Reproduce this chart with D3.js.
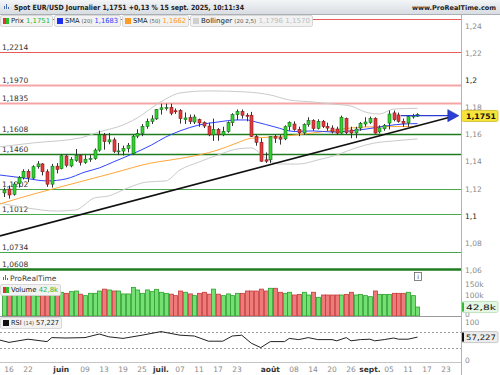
<!DOCTYPE html>
<html>
<head>
<meta charset="utf-8">
<script src="https://cdn.jsdelivr.net/npm/d3@7"></script>
<style>
body{margin:0;background:#fff}
svg{display:block;font-family:"DejaVu Sans",sans-serif}
</style>
</head>
<body>
<svg id="chart" width="500" height="375"></svg>
<script>
// daily candles, 15 May -> 15 Sep 2025 (index -1 .. 86)
var days = ["05-15","05-16","05-19","05-20","05-21","05-22","05-23","05-26","05-27","05-28","05-29","05-30",
  "06-02","06-03","06-04","06-05","06-06","06-09","06-10","06-11","06-12","06-13","06-16","06-17","06-18","06-19","06-20","06-23","06-24","06-25","06-26","06-27","06-30",
  "07-01","07-02","07-03","07-04","07-07","07-08","07-09","07-10","07-11","07-14","07-15","07-16","07-17","07-18","07-21","07-22","07-23","07-24","07-25","07-28","07-29","07-30","07-31",
  "08-01","08-04","08-05","08-06","08-07","08-08","08-11","08-12","08-13","08-14","08-15","08-18","08-19","08-20","08-21","08-22","08-25","08-26","08-27","08-28","08-29",
  "09-01","09-02","09-03","09-04","09-05","09-08","09-09","09-10","09-11","09-12","09-15"];
var firstIdx = -1;

var open = [1.1170,1.1199,1.1160,1.1240,1.1285,1.1330,1.1280,1.1364,1.1385,1.1327,1.1235,1.1368,
  1.1350,1.1443,1.1370,1.1410,1.1448,1.1395,1.1418,1.1425,1.1487,1.1598,1.1548,1.1563,1.1478,1.1480,1.1498,1.1460,1.1590,1.1610,1.1662,1.1700,1.1718,
  1.1787,1.1800,1.1802,1.1778,1.1780,1.1712,1.1728,1.1695,1.1712,1.1690,1.1665,1.1600,1.1640,1.1600,1.1625,1.1690,1.1750,1.1772,1.1745,1.1745,1.1588,1.1545,1.1415,
  1.1415,1.1587,1.1580,1.1570,1.1663,1.1680,1.1640,1.1614,1.1676,1.1705,1.1648,1.1700,1.1662,1.1650,1.1643,1.1613,1.1720,1.1636,1.1614,1.1650,1.1680,
  1.1690,1.1722,1.1622,1.1645,1.1687,1.1762,1.1747,1.1700,1.1688,1.1735,1.1738];
var high = [1.1209,1.1225,1.1250,1.1295,1.1345,1.1345,1.1375,1.1406,1.1390,1.1345,1.1385,1.1390,
  1.1455,1.1455,1.1435,1.1495,1.1455,1.1450,1.1450,1.1500,1.1631,1.1614,1.1614,1.1580,1.1540,1.1520,1.1540,1.1600,1.1641,1.1680,1.1720,1.1745,1.1790,
  1.1830,1.1830,1.1830,1.1795,1.1790,1.1765,1.1750,1.1750,1.1720,1.1700,1.1690,1.1720,1.1650,1.1660,1.1700,1.1760,1.1788,1.1788,1.1760,1.1770,1.1600,1.1575,1.1470,
  1.1590,1.1600,1.1600,1.1670,1.1700,1.1700,1.1660,1.1685,1.1730,1.1715,1.1715,1.1710,1.1690,1.1670,1.1660,1.1742,1.1728,1.1660,1.1660,1.1695,1.1730,
  1.1735,1.1730,1.1670,1.1680,1.1780,1.1780,1.1765,1.1720,1.1745,1.1755,1.1760];
var low = [1.1140,1.1128,1.1150,1.1210,1.1270,1.1250,1.1270,1.1350,1.1300,1.1215,1.1210,1.1315,
  1.1345,1.1360,1.1360,1.1400,1.1373,1.1385,1.1400,1.1415,1.1475,1.1490,1.1530,1.1466,1.1450,1.1447,1.1470,1.1452,1.1575,1.1590,1.1645,1.1680,1.1710,
  1.1750,1.1780,1.1745,1.1755,1.1683,1.1680,1.1680,1.1680,1.1660,1.1650,1.1590,1.1555,1.1556,1.1590,1.1615,1.1665,1.1710,1.1720,1.1700,1.1585,1.1520,1.1400,1.1392,
  1.1392,1.1540,1.1528,1.1560,1.1630,1.1630,1.1590,1.1600,1.1660,1.1630,1.1640,1.1650,1.1630,1.1610,1.1600,1.1607,1.1605,1.1575,1.1575,1.1630,1.1660,
  1.1680,1.1608,1.1610,1.1630,1.1640,1.1700,1.1690,1.1660,1.1660,1.1720,1.1733];
var close = [1.1192,1.1155,1.1236,1.1285,1.1330,1.1283,1.1364,1.1385,1.1327,1.1235,1.1368,1.1345,
  1.1445,1.1375,1.1418,1.1448,1.1396,1.1420,1.1425,1.1487,1.1600,1.1550,1.1563,1.1478,1.1481,1.1498,1.1523,1.1590,1.1610,1.1662,1.1700,1.1718,1.1787,
  1.1800,1.1802,1.1760,1.1776,1.1720,1.1725,1.1700,1.1732,1.1688,1.1665,1.1600,1.1640,1.1600,1.1625,1.1690,1.1750,1.1772,1.1745,1.1740,1.1588,1.1545,1.1405,1.1405,
  1.1587,1.1575,1.1568,1.1660,1.1690,1.1640,1.1614,1.1676,1.1705,1.1648,1.1700,1.1662,1.1650,1.1622,1.1613,1.1730,1.1616,1.1614,1.1643,1.1685,1.1695,
  1.1722,1.1613,1.1651,1.1670,1.1754,1.1712,1.1700,1.1685,1.1735,1.1740,1.1751];
// volume in thousands
var volume = [105,110,115,108,112,118,110,95,112,120,125,108,
  113,108,116,119,104,97,108,108,119,128,124,119,119,105,105,136,124,108,124,116,127,
  113,108,104,97,119,113,105,97,108,113,104,128,104,97,105,97,108,108,119,119,119,128,119,
  132,132,113,108,113,100,103,113,100,113,89,100,100,100,100,100,103,113,100,103,97,
  92,119,103,103,103,108,108,108,113,97,42.8];

// indicators (index, value)
var sma20Idx = [-2,3,8,12,16,19,22,26,30,33,36,40,44,48,50,52,56,60,64,68,72,76,80,83,86];
var sma20Val = [1.1303,1.1281,1.1259,1.1274,1.1325,1.1355,1.1400,1.1459,1.1525,1.1584,1.1629,1.1673,1.1695,1.1710,1.1710,1.1695,1.1658,1.1625,1.1629,1.1621,1.1629,1.1647,1.1669,1.1680,1.1683];
var sma50Idx = [-2,6,10,22,30,34,40,44,48,51,56,64,75,86];
var sma50Val = [1.1088,1.1170,1.1207,1.1318,1.1392,1.1414,1.1451,1.1488,1.1540,1.1575,1.1584,1.1614,1.1658,1.1662];
var bbUpIdx = [-2,5,15,19,24,28,30,33,36,42,50,55,59,64,68,72,75,78,81,86];
var bbUpVal = [1.1511,1.1540,1.1577,1.1622,1.1673,1.1747,1.1799,1.1865,1.1910,1.1925,1.1917,1.1895,1.1858,1.1843,1.1828,1.1813,1.1769,1.1754,1.1791,1.1796];
var bbLoIdx = [-2,4,10,14,18,21,25,29,33,36,40,44,48,51,54,57,61,65,69,73,77,81,86];
var bbLoVal = [1.1095,1.1058,1.1036,1.1044,1.1133,1.1148,1.1207,1.1251,1.1259,1.1340,1.1399,1.1451,1.1495,1.1503,1.1429,1.1384,1.1384,1.1414,1.1451,1.1503,1.1540,1.1555,1.1570];
var rsiIdx = [-2,0,4,8,9,12,16,19,21,24,28,32,36,39,42,45,47,49,51,53,55,58,59,61,63,65,68,69,71,72,74,76,77,79,81,82,84,86];
var rsiVal = [50,44,52,46,56,55,56,65,58,54,62,71,62,60,47,47,60,62,42,31,46,46,54,51,56,51,51,48,56,48,51,52,48,51,55,52,52,57.227];

// horizontal levels drawn on the chart
var levelPrice = [1.2457,1.2214,1.1970,1.1835,1.1608,1.1460,1.1202,1.1012,1.0734,1.0608];
var levelLabel = ["","1,2214","1,1970","1,1835","1,1608","1,1460","1,1202","1,1012","1,0734","1,0608"];
var levelKind = ["res","res","resSoft","resSoft","sup","sup","supSoft","supSoft","supSoft","supBold"];
var trendIdx = [-1.9, 93.2];
var trendVal = [1.0852, 1.1734];
var lastPrice = 1.1751, lineLevel = 1.1742, lineFrom = 82.5, arrowIdx = 94.7;

var priceTicks = [1.06,1.08,1.1,1.12,1.14,1.16,1.18,1.2,1.22,1.24];
var volTicks = [0,100,150];
var tickPos = [0,4,11,16,20,24,28,32,36,40,44,48,55,60,64,68,72,76,80,84,88,92];
var tickLabel = ["16","22","juin","09","13","19","25","juil.","07","11","17","23","août","08","14","20","26","sept.","05","11","17","23"];

var svg = d3.select("#chart");
var axisX = 461;
var fmt = function(v, n) { return v.toFixed(n).replace(".", ","); };

var x = d3.scaleLinear().domain([-1.9, 95.16]).range([0, axisX]);
var y = d3.scaleLinear().domain([1.06, 1.24]).range([270, 26.7]);
var yVol = d3.scaleLinear().domain([0, 150]).range([316, 284.5]);
var yRsi = d3.scaleLinear().domain([0, 100]).range([360, 320]);

var defs = svg.append("defs");
defs.append("clipPath").attr("id", "clipP").append("rect").attr("x", 0).attr("y", 15).attr("width", axisX).attr("height", 258);
var grad = defs.append("linearGradient").attr("id", "hdr").attr("x1", 0).attr("y1", 0).attr("x2", 0).attr("y2", 1);
grad.append("stop").attr("offset", 0).attr("stop-color", "#f3f5f7");
grad.append("stop").attr("offset", 1).attr("stop-color", "#d6dbe0");

var levelStyle = {
  res: {c: "#ea5a58", w: 1},
  resSoft: {c: "#f5a5a5", w: 2},
  sup: {c: "#1f7d1f", w: 1.6},
  supSoft: {c: "#4aa84a", w: 1},
  supBold: {c: "#1f7d1f", w: 2.4}
};

var plot = svg.append("g").attr("clip-path", "url(#clipP)");

// levels
levelPrice.forEach(function(p, k) {
  var st = levelStyle[levelKind[k]];
  var yy = Math.round(y(p)) + 0.5;
  plot.append("line").attr("x1", 0).attr("x2", axisX).attr("y1", yy).attr("y2", yy)
    .attr("stroke", st.c).attr("stroke-width", st.w);
  if (levelLabel[k]) {
    plot.append("text").attr("x", 2).attr("y", yy - 3).attr("font-size", 7.5).attr("fill", "#333")
      .text(levelLabel[k]);
  }
});

// indicator lines
function ind(idx, val, color) {
  var pts = idx.map(function(d, k) { return [x(d), y(val[k])]; });
  plot.append("path").attr("d", d3.line().curve(d3.curveMonotoneX)(pts))
    .attr("fill", "none").attr("stroke", color).attr("stroke-width", 1);
}
ind(bbUpIdx, bbUpVal, "#cacaca");
ind(bbLoIdx, bbLoVal, "#cacaca");
ind(sma50Idx, sma50Val, "#ffa63c");
ind(sma20Idx, sma20Val, "#3344ff");

// candles
var candles = close.map(function(c, k) {
  return {i: k + firstIdx, day: days[k], o: open[k], h: high[k], l: low[k], c: c, v: volume[k]};
});
var cg = plot.append("g");
candles.forEach(function(d) {
  var r = Math.round(x(d.i));
  var up = d.c >= d.o;
  cg.append("line").attr("x1", r + 0.5).attr("x2", r + 0.5).attr("y1", y(d.h)).attr("y2", y(d.l))
    .attr("stroke", "#333").attr("stroke-width", 1);
  var top = y(Math.max(d.o, d.c)), bot = y(Math.min(d.o, d.c));
  cg.append("rect").attr("x", r - 1).attr("width", 3).attr("y", top).attr("height", Math.max(1, bot - top))
    .attr("fill", up ? "#2fd42f" : "#e8383a").attr("stroke", up ? "#176b17" : "#7d1c1c").attr("stroke-width", 0.6);
});

// trend line + blue price line with arrow
plot.append("line").attr("x1", x(trendIdx[0])).attr("y1", y(trendVal[0])).attr("x2", x(trendIdx[1])).attr("y2", y(trendVal[1]))
  .attr("stroke", "#111").attr("stroke-width", 1.6);
plot.append("line").attr("x1", x(lineFrom)).attr("x2", x(arrowIdx) - 8).attr("y1", y(lineLevel)).attr("y2", y(lineLevel))
  .attr("stroke", "#2a3ccf").attr("stroke-width", 1.2);
var ax = x(arrowIdx), ay = y(lineLevel);
svg.append("path").attr("d", "M" + ax + "," + ay + "L" + (ax - 11) + "," + (ay - 6) + "L" + (ax - 11) + "," + (ay + 6) + "Z")
  .attr("fill", "#2b3fd6").attr("stroke", "#1a2a99").attr("stroke-width", 0.6);

// volume bars
var vg = svg.append("g");
candles.forEach(function(d) {
  var r = Math.round(x(d.i));
  var up = d.c >= d.o;
  if (r < 0) return;
  vg.append("rect").attr("x", r - 1.5).attr("width", 4).attr("y", yVol(d.v)).attr("height", yVol(0) - yVol(d.v))
    .attr("fill", up ? "#74e074" : "#ee7a7a").attr("stroke", up ? "#2ba12b" : "#c53a3a").attr("stroke-width", 0.8);
});
svg.append("line").attr("x1", 0).attr("x2", axisX).attr("y1", 316.5).attr("y2", 316.5).attr("stroke", "#9a9a9a");

// RSI
[70, 30].forEach(function(v) {
  svg.append("line").attr("x1", 0).attr("x2", axisX).attr("y1", Math.round(yRsi(v)) + 0.5).attr("y2", Math.round(yRsi(v)) + 0.5)
    .attr("stroke", "#9a9a9a").attr("stroke-dasharray", "2,2");
});
svg.append("path").attr("d", d3.line()(rsiIdx.map(function(d, k) { return [x(d), yRsi(rsiVal[k])]; })))
  .attr("fill", "none").attr("stroke", "#222").attr("stroke-width", 1);
svg.append("line").attr("x1", 0).attr("x2", axisX).attr("y1", 362.5).attr("y2", 362.5).attr("stroke", "#c4c4c4");

// right axis
svg.append("line").attr("x1", axisX + 0.5).attr("x2", axisX + 0.5).attr("y1", 15).attr("y2", 375).attr("stroke", "#b3b3b3");
var rg = svg.append("g").attr("font-size", 7.5);
priceTicks.forEach(function(t) {
  var strong = (t === 1.2 || t === 1.1);
  rg.append("text").attr("x", 465).attr("y", y(t)).attr("dy", "0.35em")
    .attr("fill", strong ? "#222" : "#8a8a8a").text(String(t).replace(".", ","));
});
volTicks.forEach(function(t) {
  rg.append("text").attr("x", 465).attr("y", yVol(t) - (t === 0 ? 1.5 : 0)).attr("dy", "0.35em").attr("fill", "#8a8a8a")
    .text(t === 0 ? "0" : t + "k");
});
[100, 0].forEach(function(t) {
  rg.append("text").attr("x", 465).attr("y", yRsi(t) + (t === 100 ? 2 : 0)).attr("dy", "0.35em").attr("fill", "#8a8a8a").text(t);
});

function valueBox(yy, label, bg, border, mark, bold) {
  svg.append("rect").attr("x", 462).attr("y", yy - 5.5).attr("width", 36).attr("height", 11).attr("rx", 1.5)
    .attr("fill", bg).attr("stroke", border).attr("stroke-width", 0.8);
  svg.append("rect").attr("x", 462).attr("y", yy - 4.5).attr("width", 2).attr("height", 9).attr("fill", mark);
  svg.append("text").attr("x", 466).attr("y", yy).attr("dy", "0.35em").attr("font-size", 7.5)
    .attr("font-weight", bold ? "bold" : "normal").attr("fill", "#111").attr("textLength", 30).attr("lengthAdjust", "spacingAndGlyphs").text(label);
}
valueBox(y(lastPrice) + 1.5, fmt(lastPrice, 4), "#f7e43a", "#cdb720", "#f7e43a", true);
valueBox(yVol(volume[volume.length - 1]), fmt(volume[volume.length - 1], 1) + "k", "#e4f6e4", "#b4dfb4", "#33bb33", false);
valueBox(yRsi(rsiVal[rsiVal.length - 1]), fmt(rsiVal[rsiVal.length - 1], 3), "#ececec", "#bdbdbd", "#111", false);

// x axis labels
var xg = svg.append("g").attr("font-size", 7.5).attr("text-anchor", "middle");
tickPos.forEach(function(p, k) {
  var month = isNaN(+tickLabel[k]);
  xg.append("text").attr("x", x(p)).attr("y", 369).attr("dy", "0.35em")
    .attr("fill", month ? "#333" : "#8a8a8a").attr("font-weight", month ? "bold" : "normal").text(tickLabel[k]);
});

// ProRealTime logo and info box
function logo(g, lx, ly) {
  [[0, 3], [2, 1], [4, 4]].forEach(function(b) {
    g.append("rect").attr("x", lx + b[0]).attr("y", ly + b[1]).attr("width", 1).attr("height", 6 - b[1]).attr("fill", "#4a6fb0");
  });
}
logo(svg, 3, 274);
svg.append("text").attr("x", 10).attr("y", 278.5).attr("dy", "0.35em").attr("font-size", 7.5).attr("fill", "#444").text("ProRealTime");
svg.append("rect").attr("x", 414.5).attr("y", 272.5).attr("width", 7).attr("height", 8).attr("fill", "#fff").attr("stroke", "#666").attr("stroke-width", 0.8);
svg.append("text").attr("x", 418).attr("y", 276.8).attr("dy", "0.35em").attr("font-size", 6).attr("text-anchor", "middle").attr("fill", "#333").text("i");

// header
svg.append("rect").attr("x", 0).attr("y", 0).attr("width", 500).attr("height", 15).attr("fill", "url(#hdr)");
svg.append("line").attr("x1", 0).attr("x2", 500).attr("y1", 14.5).attr("y2", 14.5).attr("stroke", "#aab0b6");
logo(svg, 4, 3);
svg.append("text").attr("x", 14).attr("y", 7.5).attr("dy", "0.35em").attr("font-size", 7.2).attr("font-weight", "bold")
  .attr("fill", "#222").attr("textLength", 230).attr("lengthAdjust", "spacingAndGlyphs")
  .text("Spot EUR/USD Journalier 1,1751 +0,13 % 15 sept. 2025, 10:11:34");
svg.append("text").attr("x", 412).attr("y", 7.5).attr("dy", "0.35em").attr("font-size", 6.6).attr("font-weight", "bold")
  .attr("fill", "#222").attr("textLength", 84).attr("lengthAdjust", "spacingAndGlyphs")
  .text("www.ProRealTime.com");

// legend boxes
function legendBox(bx, by, bw, parts, sw) {
  var g = svg.append("g");
  g.append("rect").attr("x", bx + 0.5).attr("y", by + 0.5).attr("width", bw).attr("height", 11).attr("rx", 1.5)
    .attr("fill", "#f2f2f2").attr("stroke", "#cfcfcf").attr("stroke-width", 0.8);
  sw(g, bx + 3, by + 3);
  var t = g.append("text").attr("x", bx + 11).attr("y", by + 6).attr("dy", "0.35em").attr("font-size", 7)
    .attr("textLength", bw - 13).attr("lengthAdjust", "spacingAndGlyphs");
  parts.forEach(function(p) {
    t.append("tspan").attr("fill", p[1]).attr("font-size", p[2] || 7).attr("dx", p[3] || 0).text(p[0]);
  });
}
function sq(c1, c2) {
  return function(g, sx, sy) {
    g.append("rect").attr("x", sx).attr("y", sy).attr("width", 6).attr("height", 6).attr("fill", c1);
    if (c2) g.append("rect").attr("x", sx + 3).attr("y", sy).attr("width", 3).attr("height", 6).attr("fill", c2);
  };
}
legendBox(0, 15, 52, [["Prix", "#222"], [" 1,1751", "#2db52d"]], sq("#e53030", "#2dc02d"));
legendBox(54, 15, 66, [["SMA", "#222"], ["(20)", "#555", 5.5, 2], [" 1,1683", "#2a3cff"]], sq("#1f2ff0"));
legendBox(122, 15, 66, [["SMA", "#222"], ["(50)", "#555", 5.5, 2], [" 1,1662", "#ff9a22"]], sq("#ff9a22"));
legendBox(190, 15, 122, [["Bollinger", "#222"], ["(20 2,5)", "#555", 5.5, 2], [" 1,1796", "#bdbdbd"], [" 1,1570", "#bdbdbd"]], sq("#cfcfcf"));
legendBox(0, 284, 60, [["Volume", "#222"], [" 42,8k", "#2db52d"]], sq("#e53030", "#2dc02d"));
legendBox(0, 317, 61, [["RSI", "#222"], ["(14)", "#555", 5.5, 2], [" 57,227", "#222"]], sq("#111"));
</script>
</body>
</html>
